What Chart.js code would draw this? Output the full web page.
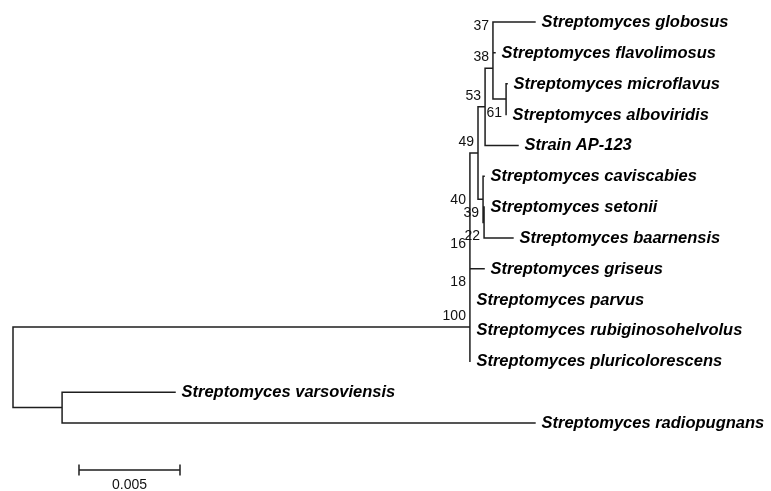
<!DOCTYPE html>
<html><head><meta charset="utf-8">
<script src="https://cdn.jsdelivr.net/npm/chart.js@4.4.0/dist/chart.umd.min.js"></script>
<style>html,body{margin:0;padding:0;background:#fff;} #wrap{width:771px;height:491px;position:relative;}</style>
</head><body><div id="wrap"><canvas id="c"></canvas></div>
<script>
// Leaf taxa, listed top to bottom
const taxa = ["Streptomyces globosus", "Streptomyces flavolimosus", "Streptomyces microflavus",
  "Streptomyces alboviridis", "Strain AP-123", "Streptomyces caviscabies", "Streptomyces setonii",
  "Streptomyces baarnensis", "Streptomyces griseus", "Streptomyces parvus",
  "Streptomyces rubiginosohelvolus", "Streptomyces pluricolorescens",
  "Streptomyces varsoviensis", "Streptomyces radiopugnans"];
// Distance from the root to each leaf tip (substitutions per site)
const taxonDepth = [0.02584, 0.02386, 0.02446, 0.02441, 0.02500, 0.02332, 0.02332,
  0.02475, 0.02332, 0.02262, 0.02262, 0.02262, 0.00802, 0.02584];
// Internal nodes: id, children (leaf index or node id), depth from root, bootstrap value
const nodeIds = ["root", "out", "n100", "n18", "n16", "n40", "n49", "n53", "n38", "n37", "n61", "n39", "n22"];
const nodeChildren = [["out", "n100"], [12, 13], ["n18", 11], ["n16", 10], ["n40", 9], ["n49", 8],
  ["n53", "n39"], ["n38", 4], ["n37", "n61"], [0, 1], [2, 3], [5, "n22"], [6, 7]];
const nodeDepth = [0, 0.00243, 0.02262, 0.02262, 0.02262, 0.02262, 0.02302, 0.02337, 0.02376,
  0.02376, 0.02441, 0.02327, 0.02332];
const bootstrap = [null, null, 100, 18, 16, 40, 49, 53, 38, 37, 61, 39, 22];
const scaleBarLength = 0.005;
const scaleBarLabel = "0.005";

// ---- layout / style ----
const STYLE = {
  line: '#1e1e1e', lineWidth: 1.5,
  leafFont: "italic bold 16.5px 'Liberation Sans', Arial, sans-serif",
  bootFont: "14px 'Liberation Sans', Arial, sans-serif",
  leafGap: 6.5, bootDx: -4, bootDy: -11, bootBelowDy: 14,
  bootBelow: ["n61", "n39", "n22"],
  scaleBarX: 0.003267, scaleBarY: 14.524, scaleTick: 0.18, scaleLabelY: 15.0
};

// ---- build geometry from the tree ----
const nodeIndex = {};
nodeIds.forEach((id, i) => nodeIndex[id] = i);
const nodeY = {};
function yOf(c) {
  if (typeof c === 'number') return c;
  if (nodeY[c] !== undefined) return nodeY[c];
  const ch = nodeChildren[nodeIndex[c]];
  const v = (yOf(ch[0]) + yOf(ch[ch.length - 1])) / 2;
  nodeY[c] = v; return v;
}
function xOf(c) { return typeof c === 'number' ? taxonDepth[c] : nodeDepth[nodeIndex[c]]; }

const branchPts = [];
nodeIds.forEach((id, i) => {
  const nx = nodeDepth[i], ny = yOf(id);
  nodeChildren[i].forEach(c => {
    branchPts.push({x: nx, y: ny}, {x: nx, y: yOf(c)}, {x: xOf(c), y: yOf(c)}, {x: null, y: null});
  });
});
const sb = STYLE.scaleBarX;
const scalePts = [
  {x: sb, y: STYLE.scaleBarY}, {x: sb + scaleBarLength, y: STYLE.scaleBarY}, {x: null, y: null},
  {x: sb, y: STYLE.scaleBarY - STYLE.scaleTick}, {x: sb, y: STYLE.scaleBarY + STYLE.scaleTick}, {x: null, y: null},
  {x: sb + scaleBarLength, y: STYLE.scaleBarY - STYLE.scaleTick}, {x: sb + scaleBarLength, y: STYLE.scaleBarY + STYLE.scaleTick}
];

const labelPlugin = {
  id: 'treeLabels',
  afterDatasetsDraw(chart) {
    const ctx = chart.ctx, xs = chart.scales.x, ys = chart.scales.y;
    ctx.save();
    ctx.fillStyle = '#000';
    ctx.font = STYLE.leafFont;
    ctx.textAlign = 'left'; ctx.textBaseline = 'middle';
    taxa.forEach((t, i) => {
      ctx.fillText(t, xs.getPixelForValue(taxonDepth[i]) + STYLE.leafGap, ys.getPixelForValue(i) + 0.5);
    });
    ctx.font = STYLE.bootFont;
    ctx.fillStyle = '#111';
    ctx.textAlign = 'right';
    nodeIds.forEach((id, i) => {
      if (bootstrap[i] == null) return;
      const px = xs.getPixelForValue(nodeDepth[i]) + STYLE.bootDx;
      const py = ys.getPixelForValue(yOf(id)) + (STYLE.bootBelow.includes(id) ? STYLE.bootBelowDy : STYLE.bootDy);
      ctx.fillText(String(bootstrap[i]), px, py);
    });
    ctx.textAlign = 'center';
    ctx.fillText(scaleBarLabel, xs.getPixelForValue(sb + scaleBarLength / 2), ys.getPixelForValue(STYLE.scaleLabelY));
    ctx.restore();
  }
};

new Chart(document.getElementById('c'), {
  type: 'scatter',
  data: { datasets: [
    { data: branchPts, showLine: true, spanGaps: false, borderColor: STYLE.line, borderWidth: STYLE.lineWidth,
      pointRadius: 0, tension: 0, clip: false, borderCapStyle: 'square', borderJoinStyle: 'miter' },
    { data: scalePts, showLine: true, spanGaps: false, borderColor: STYLE.line, borderWidth: STYLE.lineWidth,
      pointRadius: 0, tension: 0, clip: false }
  ]},
  options: {
    responsive: true, maintainAspectRatio: false, animation: false,
    layout: { padding: { left: 13, right: 0, top: 6.58, bottom: 0 } },
    plugins: { legend: { display: false }, tooltip: { enabled: false } },
    events: [],
    scales: {
      x: { type: 'linear', display: false, min: 0, max: 0.037525 },
      y: { type: 'linear', display: false, reverse: true, min: -0.5, max: 15.205 }
    }
  },
  plugins: [labelPlugin]
});
</script></body></html>
